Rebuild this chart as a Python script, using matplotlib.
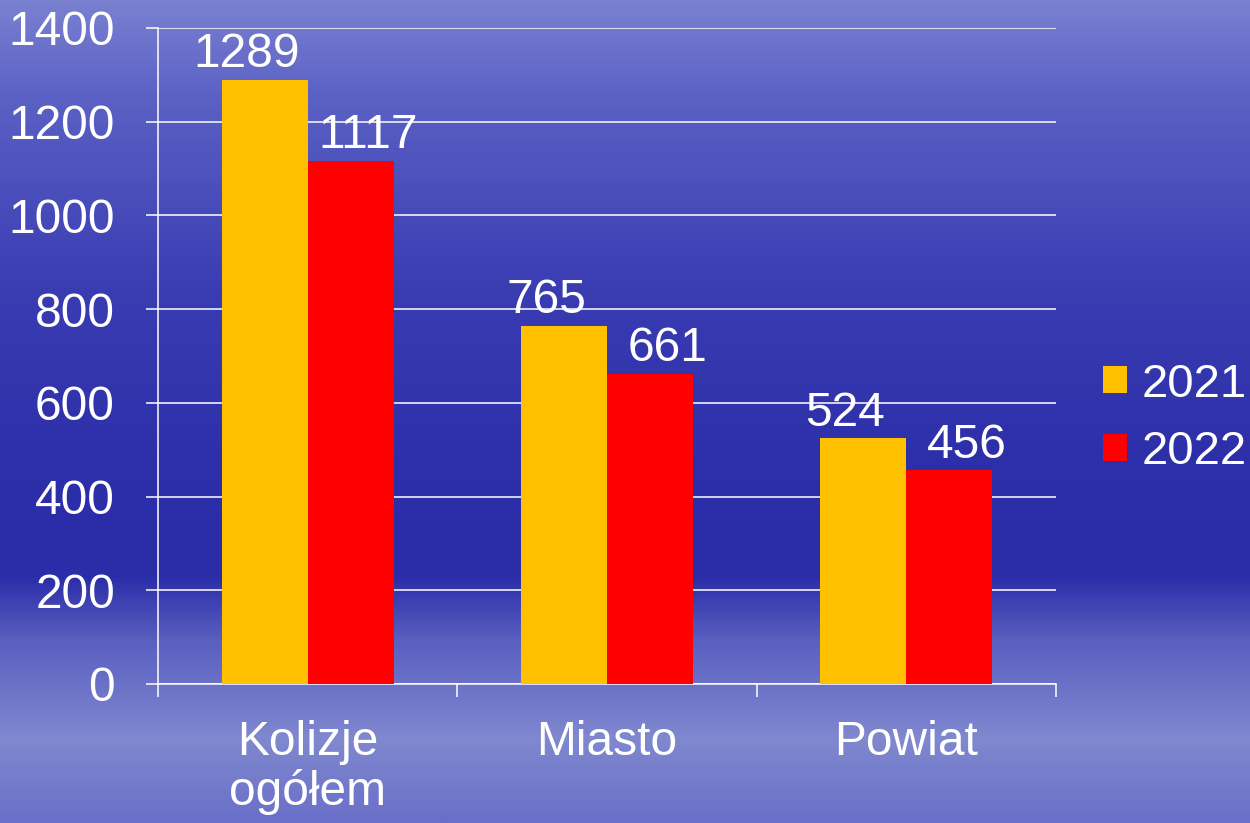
import numpy as np
import matplotlib
matplotlib.use('Agg')
import matplotlib.pyplot as plt
from matplotlib.colors import LinearSegmentedColormap

# data
categories = ['Kolizje\nogółem', 'Miasto', 'Powiat']
years = ['2021', '2022']
v2021 = [1289, 765, 524]
v2022 = [1117, 661, 456]
yticks = [0, 200, 400, 600, 800, 1000, 1200, 1400]

plt.rcParams['font.family'] = ['Liberation Sans', 'DejaVu Sans']
FS = 34.5

fig = plt.figure(figsize=(12.5, 8.23), dpi=100)

# background: blue sky-like vertical gradient
bg = fig.add_axes([0, 0, 1, 1])
bg.set_axis_off()
cmap = LinearSegmentedColormap.from_list('sky', [
    (0.00, '#7a80d0'),
    (0.12, '#5a60c4'),
    (0.35, '#3a3cb2'),
    (0.55, '#2e30aa'),
    (0.70, '#2a2ca8'),
    (0.78, '#5a5fc0'),
    (0.90, '#8088cf'),
    (1.00, '#6a70c8'),
])
grad = np.linspace(0, 1, 400).reshape(-1, 1)
bg.imshow(grad, aspect='auto', cmap=cmap, extent=[0, 1, 0, 1], origin='upper')
bg.set_xlim(0, 1)
bg.set_ylim(0, 1)

ax = fig.add_axes([0.1264, 0.1689, 0.7184, 0.7971])
ax.patch.set_alpha(0)

x = np.arange(len(categories))
w = 0.287
ax.bar(x - w/2, v2021, w, color='#ffc000', label=years[0], zorder=3)
ax.bar(x + w/2, v2022, w, color='#ff0000', label=years[1], zorder=3)

for i in range(len(categories)):
    ax.annotate(str(v2021[i]), (x[i] - w/2 - 0.06, v2021[i]), xytext=(0, 2),
                textcoords='offset points', ha='center', va='bottom',
                color='white', fontsize=FS)
    ax.annotate(str(v2022[i]), (x[i] + w/2 + 0.06, v2022[i]), xytext=(0, 2),
                textcoords='offset points', ha='center', va='bottom',
                color='white', fontsize=FS)

ax.set_xlim(-0.5, 2.5)
ax.set_ylim(0, 1400)
ax.set_yticks(yticks)
ax.yaxis.grid(True, color='white', linewidth=1.1, zorder=0)
ax.set_axisbelow(True)

ax.set_xticks(x)
ax.set_xticklabels(categories, linespacing=1.1)
ax.set_xticks([-0.5, 0.5, 1.5, 2.5], minor=True)
ax.tick_params(axis='x', which='major', length=0, pad=26, labelsize=FS, labelcolor='white')
ax.tick_params(axis='x', which='minor', length=9, width=1.1, color='white', direction='out')
ax.tick_params(axis='y', length=9, width=1.1, color='white', pad=22, labelsize=FS, labelcolor='white')

for s in ['top', 'right']:
    ax.spines[s].set_visible(False)
for s in ['left', 'bottom']:
    ax.spines[s].set_color('white')
    ax.spines[s].set_linewidth(1.1)

ax.legend(loc='center left', bbox_to_anchor=(1.016, 0.405), frameon=False,
          fontsize=34, labelcolor='white', handlelength=0.5, handleheight=0.5,
          handletextpad=0.3, labelspacing=0.5, borderpad=0.2)

fig.savefig('out.png', dpi=100)
